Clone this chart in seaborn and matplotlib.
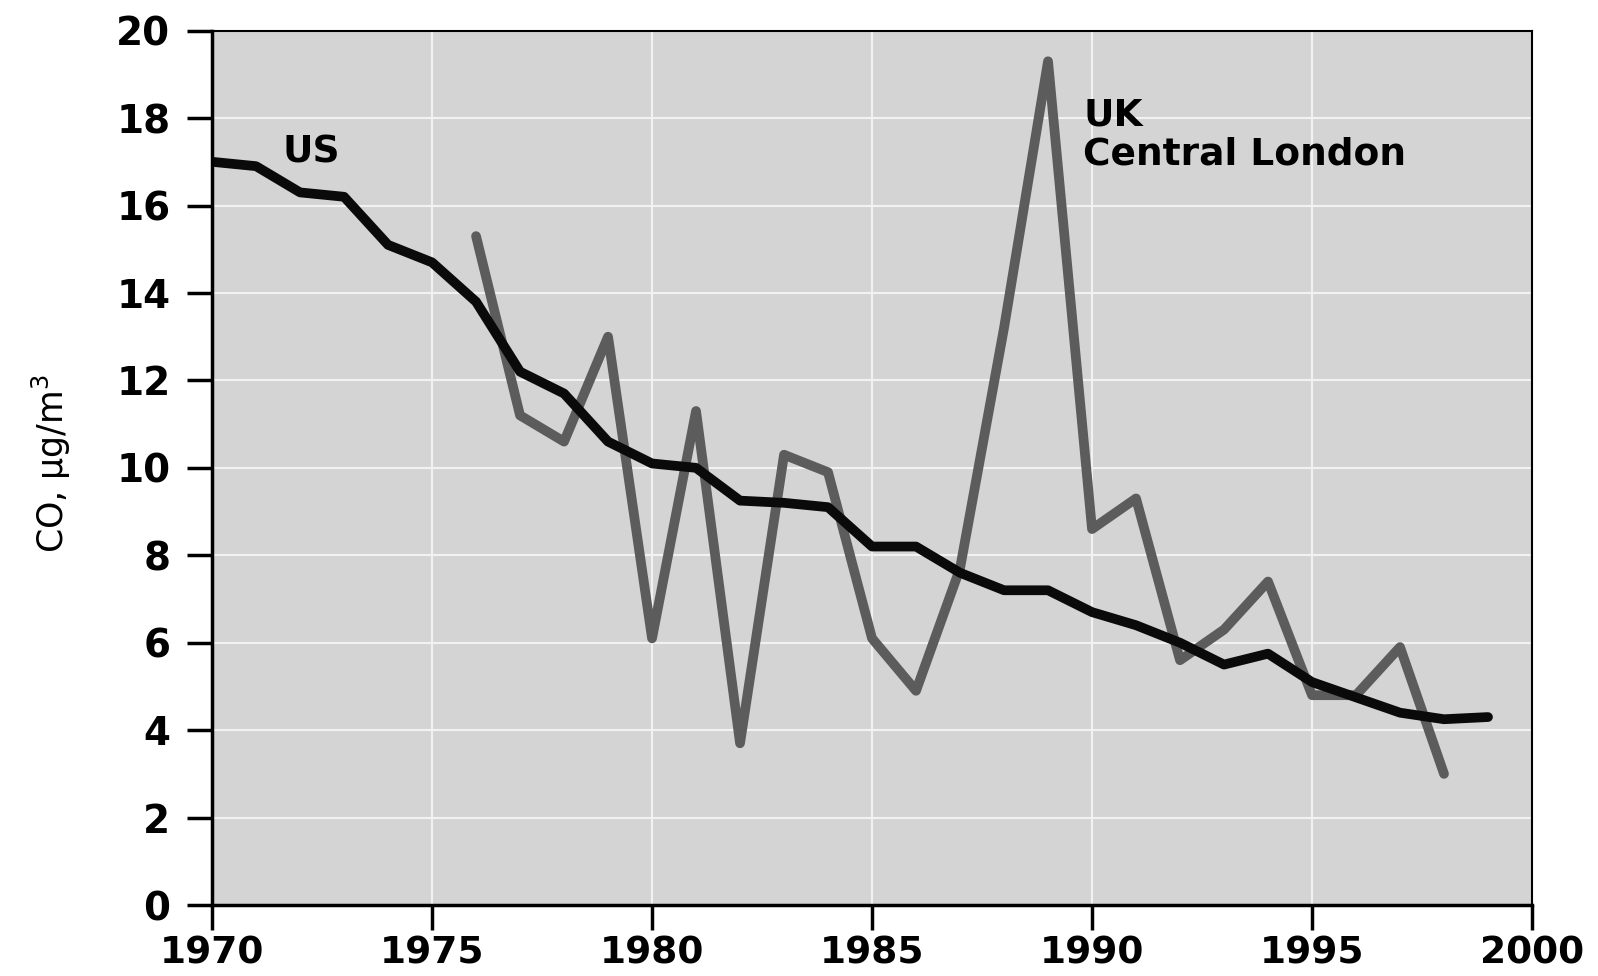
import pandas as pd
import numpy as np
import matplotlib
matplotlib.use("Agg")
import matplotlib.pyplot as plt
import seaborn as sns

# US annual CO levels
us_years = list(range(1970, 2000))
us_co = [17.0, 16.9, 16.3, 16.2, 15.1, 14.7, 13.8, 12.2, 11.7, 10.6,
         10.1, 10.0, 9.25, 9.2, 9.1, 8.2, 8.2, 7.6, 7.2, 7.2,
         6.7, 6.4, 6.0, 5.5, 5.75, 5.1, 4.75, 4.4, 4.25, 4.3]

# UK, Central London
uk_years = list(range(1976, 1999))
uk_co = [15.3, 11.2, 10.6, 13.0, 6.1, 11.3, 3.7, 10.3, 9.9, 6.1,
         4.9, 7.7, 13.2, 19.3, 8.6, 9.3, 5.6, 6.3, 7.4, 4.8,
         4.8, 5.9, 3.0]

x_ticks = [1970, 1975, 1980, 1985, 1990, 1995, 2000]
y_ticks = [0, 2, 4, 6, 8, 10, 12, 14, 16, 18, 20]

us_df = pd.DataFrame({"Year": us_years, "CO": us_co})
uk_df = pd.DataFrame({"Year": uk_years, "CO": uk_co})

sns.set_style("whitegrid", {"axes.facecolor": "#d4d4d4", "grid.color": "#f2f2f2",
                            "axes.edgecolor": "black", "text.color": "black",
                            "axes.labelcolor": "black",
                            "xtick.color": "black", "ytick.color": "black",
                            "xtick.bottom": True, "ytick.left": True})
plt.rcParams['font.family'] = ['DejaVu Sans']

fig = plt.figure(figsize=(15.98, 9.76), dpi=100)
ax = fig.add_axes([0.1327, 0.0727, 0.8260, 0.8959])

sns.lineplot(x="Year", y="CO", data=uk_df, ax=ax, color="#5c5c5c", linewidth=7)
sns.lineplot(x="Year", y="CO", data=us_df, ax=ax, color="#0a0a0a", linewidth=7)

ax.set_xlim(1970, 2000)
ax.set_ylim(0, 20)
ax.set_xticks(x_ticks)
ax.set_yticks(y_ticks)
ax.set_xticklabels([str(t) for t in x_ticks], fontsize=27, fontweight="bold")
ax.set_yticklabels([str(t) for t in y_ticks], fontsize=28, fontweight="bold")
ax.tick_params(axis="both", direction="out", length=18, width=2.5, color="black",
               bottom=True, left=True)
ax.tick_params(axis="x", pad=4)
ax.tick_params(axis="y", pad=12)
ax.grid(True, linewidth=1.5)

ax.set_xlabel("")
ax.set_ylabel("CO, μg/m$^3$", fontsize=25)
ax.yaxis.set_label_coords(-0.105, 0.505)

for side in ["left", "bottom"]:
    ax.spines[side].set_linewidth(2.5)
for side in ["top", "right"]:
    ax.spines[side].set_linewidth(1.5)

ax.text(1971.6, 16.8, "US", fontsize=27, fontweight="bold", va="bottom", ha="left")
ax.text(1989.8, 16.75, "UK\nCentral London", fontsize=27, fontweight="bold",
        va="bottom", ha="left", linespacing=1.1)

plt.savefig("out.png", dpi=100)
